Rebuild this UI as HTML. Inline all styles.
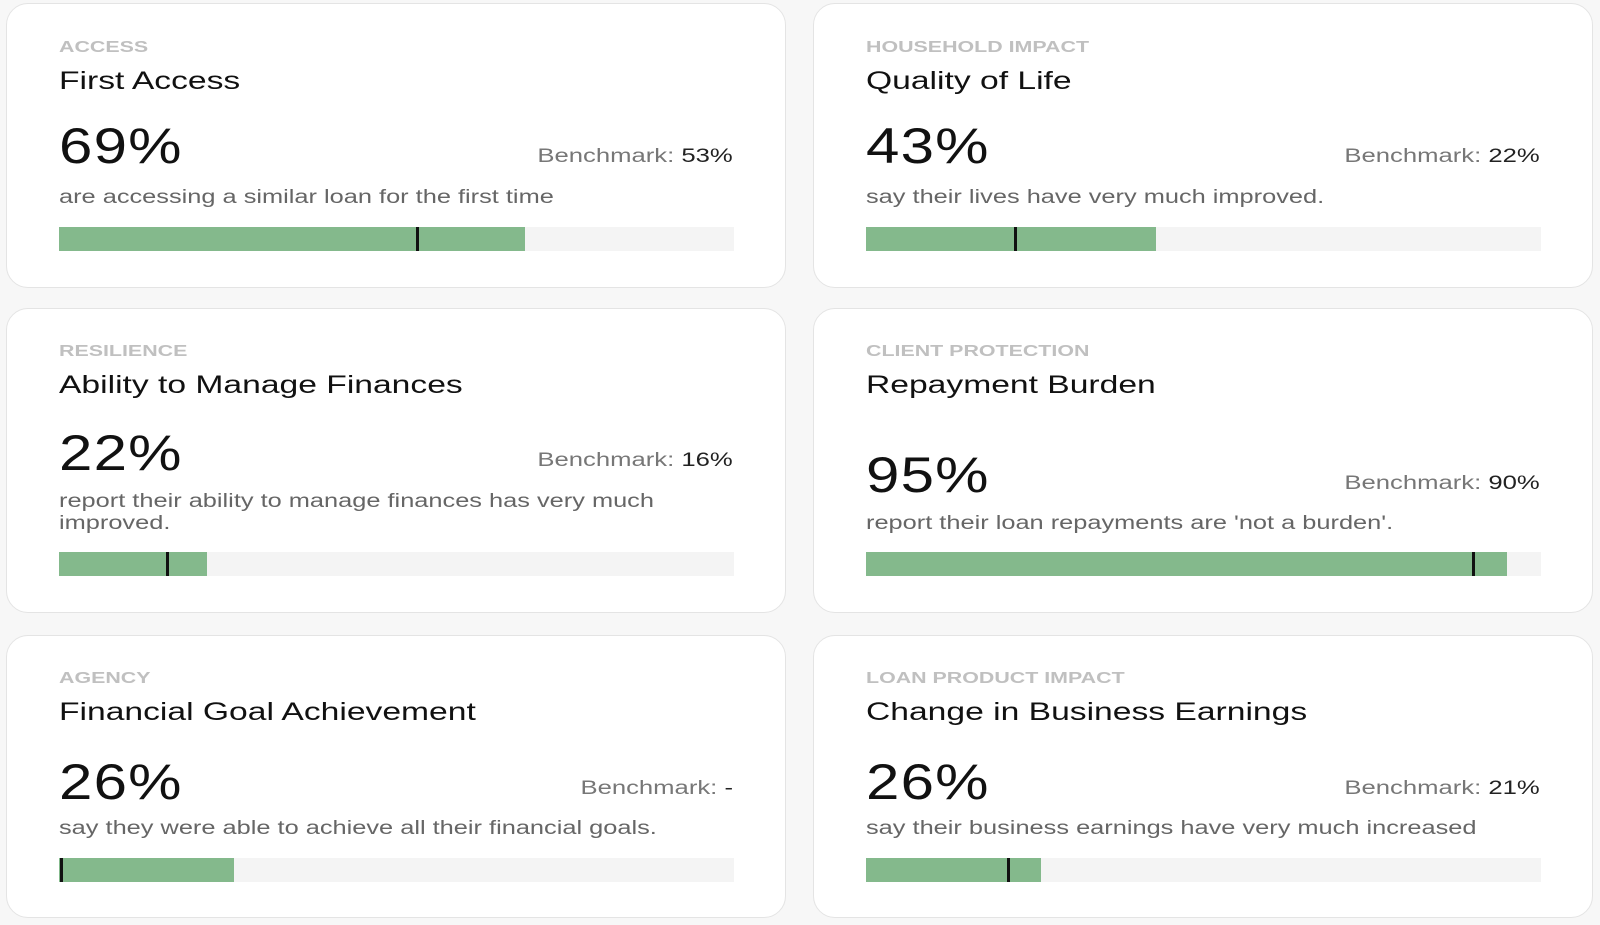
<!DOCTYPE html>
<html><head><meta charset="utf-8"><style>
*{margin:0;padding:0;box-sizing:border-box}
body{width:1600px;height:925px;background:#f7f7f7;font-family:"Liberation Sans",sans-serif;position:relative;overflow:hidden}
.card{position:absolute;background:#fff;border:1.5px solid #e4e4e4;border-radius:22px;width:780px}
.c1{left:6px}.c2{left:813px}
.t{position:absolute;left:52px;white-space:nowrap;line-height:1;transform:scaleX(1.33);transform-origin:left center}
.lab{font-size:15.5px;font-weight:bold;color:#c0c0c0;transform:scaleX(1.38)}
.tit{font-size:25px;color:#111;transform:scaleX(1.345)}
.num{font-size:50px;color:#111;transform:scaleX(1.2);letter-spacing:1px}
.bm{position:absolute;right:52px;left:auto;white-space:nowrap;line-height:1;font-size:19px;color:#777;transform:scaleX(1.35);transform-origin:right center}
.bm b{font-weight:normal;color:#222}
.desc{font-size:19px;color:#666;line-height:22px;transform:scaleX(1.335)}
.bar{position:absolute;left:52px;width:675px;height:24px;background:#f4f4f4}
.g{position:absolute;left:0;top:0;height:100%;background:#84b98c}
.m{position:absolute;top:0;width:3px;height:100%;background:#111}
</style></head><body>

<div class="card c1" style="top:3px;height:285px">
 <div class="t lab" style="top:36px">ACCESS</div>
 <div class="t tit" style="top:65px">First Access</div>
 <div class="t num" style="top:117px">69%</div>
 <div class="bm" style="top:143px">Benchmark: <b>53%</b></div>
 <div class="t desc" style="top:183px">are accessing a similar loan for the first time</div>
 <div class="bar" style="top:223px"><div class="g" style="width:466px"></div><div class="m" style="left:357px"></div></div>
</div>

<div class="card c2" style="top:3px;height:285px">
 <div class="t lab" style="top:36px">HOUSEHOLD IMPACT</div>
 <div class="t tit" style="top:65px">Quality of Life</div>
 <div class="t num" style="top:117px">43%</div>
 <div class="bm" style="top:143px">Benchmark: <b>22%</b></div>
 <div class="t desc" style="top:183px">say their lives have very much improved.</div>
 <div class="bar" style="top:223px"><div class="g" style="width:290px"></div><div class="m" style="left:148px"></div></div>
</div>

<div class="card c1" style="top:308px;height:305px">
 <div class="t lab" style="top:35px">RESILIENCE</div>
 <div class="t tit" style="top:64px">Ability to Manage Finances</div>
 <div class="t num" style="top:119px">22%</div>
 <div class="bm" style="top:142px">Benchmark: <b>16%</b></div>
 <div class="t desc" style="top:182px">report their ability to manage finances has very much<br>improved.</div>
 <div class="bar" style="top:243px"><div class="g" style="width:148px"></div><div class="m" style="left:107px"></div></div>
</div>

<div class="card c2" style="top:308px;height:305px">
 <div class="t lab" style="top:35px">CLIENT PROTECTION</div>
 <div class="t tit" style="top:64px">Repayment Burden</div>
 <div class="t num" style="top:141px">95%</div>
 <div class="bm" style="top:165px">Benchmark: <b>90%</b></div>
 <div class="t desc" style="top:204px">report their loan repayments are 'not a burden'.</div>
 <div class="bar" style="top:243px"><div class="g" style="width:641px"></div><div class="m" style="left:606px"></div></div>
</div>

<div class="card c1" style="top:635px;height:283px">
 <div class="t lab" style="top:35px">AGENCY</div>
 <div class="t tit" style="top:64px">Financial Goal Achievement</div>
 <div class="t num" style="top:121px">26%</div>
 <div class="bm" style="top:143px">Benchmark: <b>-</b></div>
 <div class="t desc" style="top:182px">say they were able to achieve all their financial goals.</div>
 <div class="bar" style="top:222px"><div class="g" style="width:175px"></div><div class="m" style="left:1px"></div></div>
</div>

<div class="card c2" style="top:635px;height:283px">
 <div class="t lab" style="top:35px">LOAN PRODUCT IMPACT</div>
 <div class="t tit" style="top:64px">Change in Business Earnings</div>
 <div class="t num" style="top:121px">26%</div>
 <div class="bm" style="top:143px">Benchmark: <b>21%</b></div>
 <div class="t desc" style="top:182px">say their business earnings have very much increased</div>
 <div class="bar" style="top:222px"><div class="g" style="width:175px"></div><div class="m" style="left:141px"></div></div>
</div>

</body></html>
